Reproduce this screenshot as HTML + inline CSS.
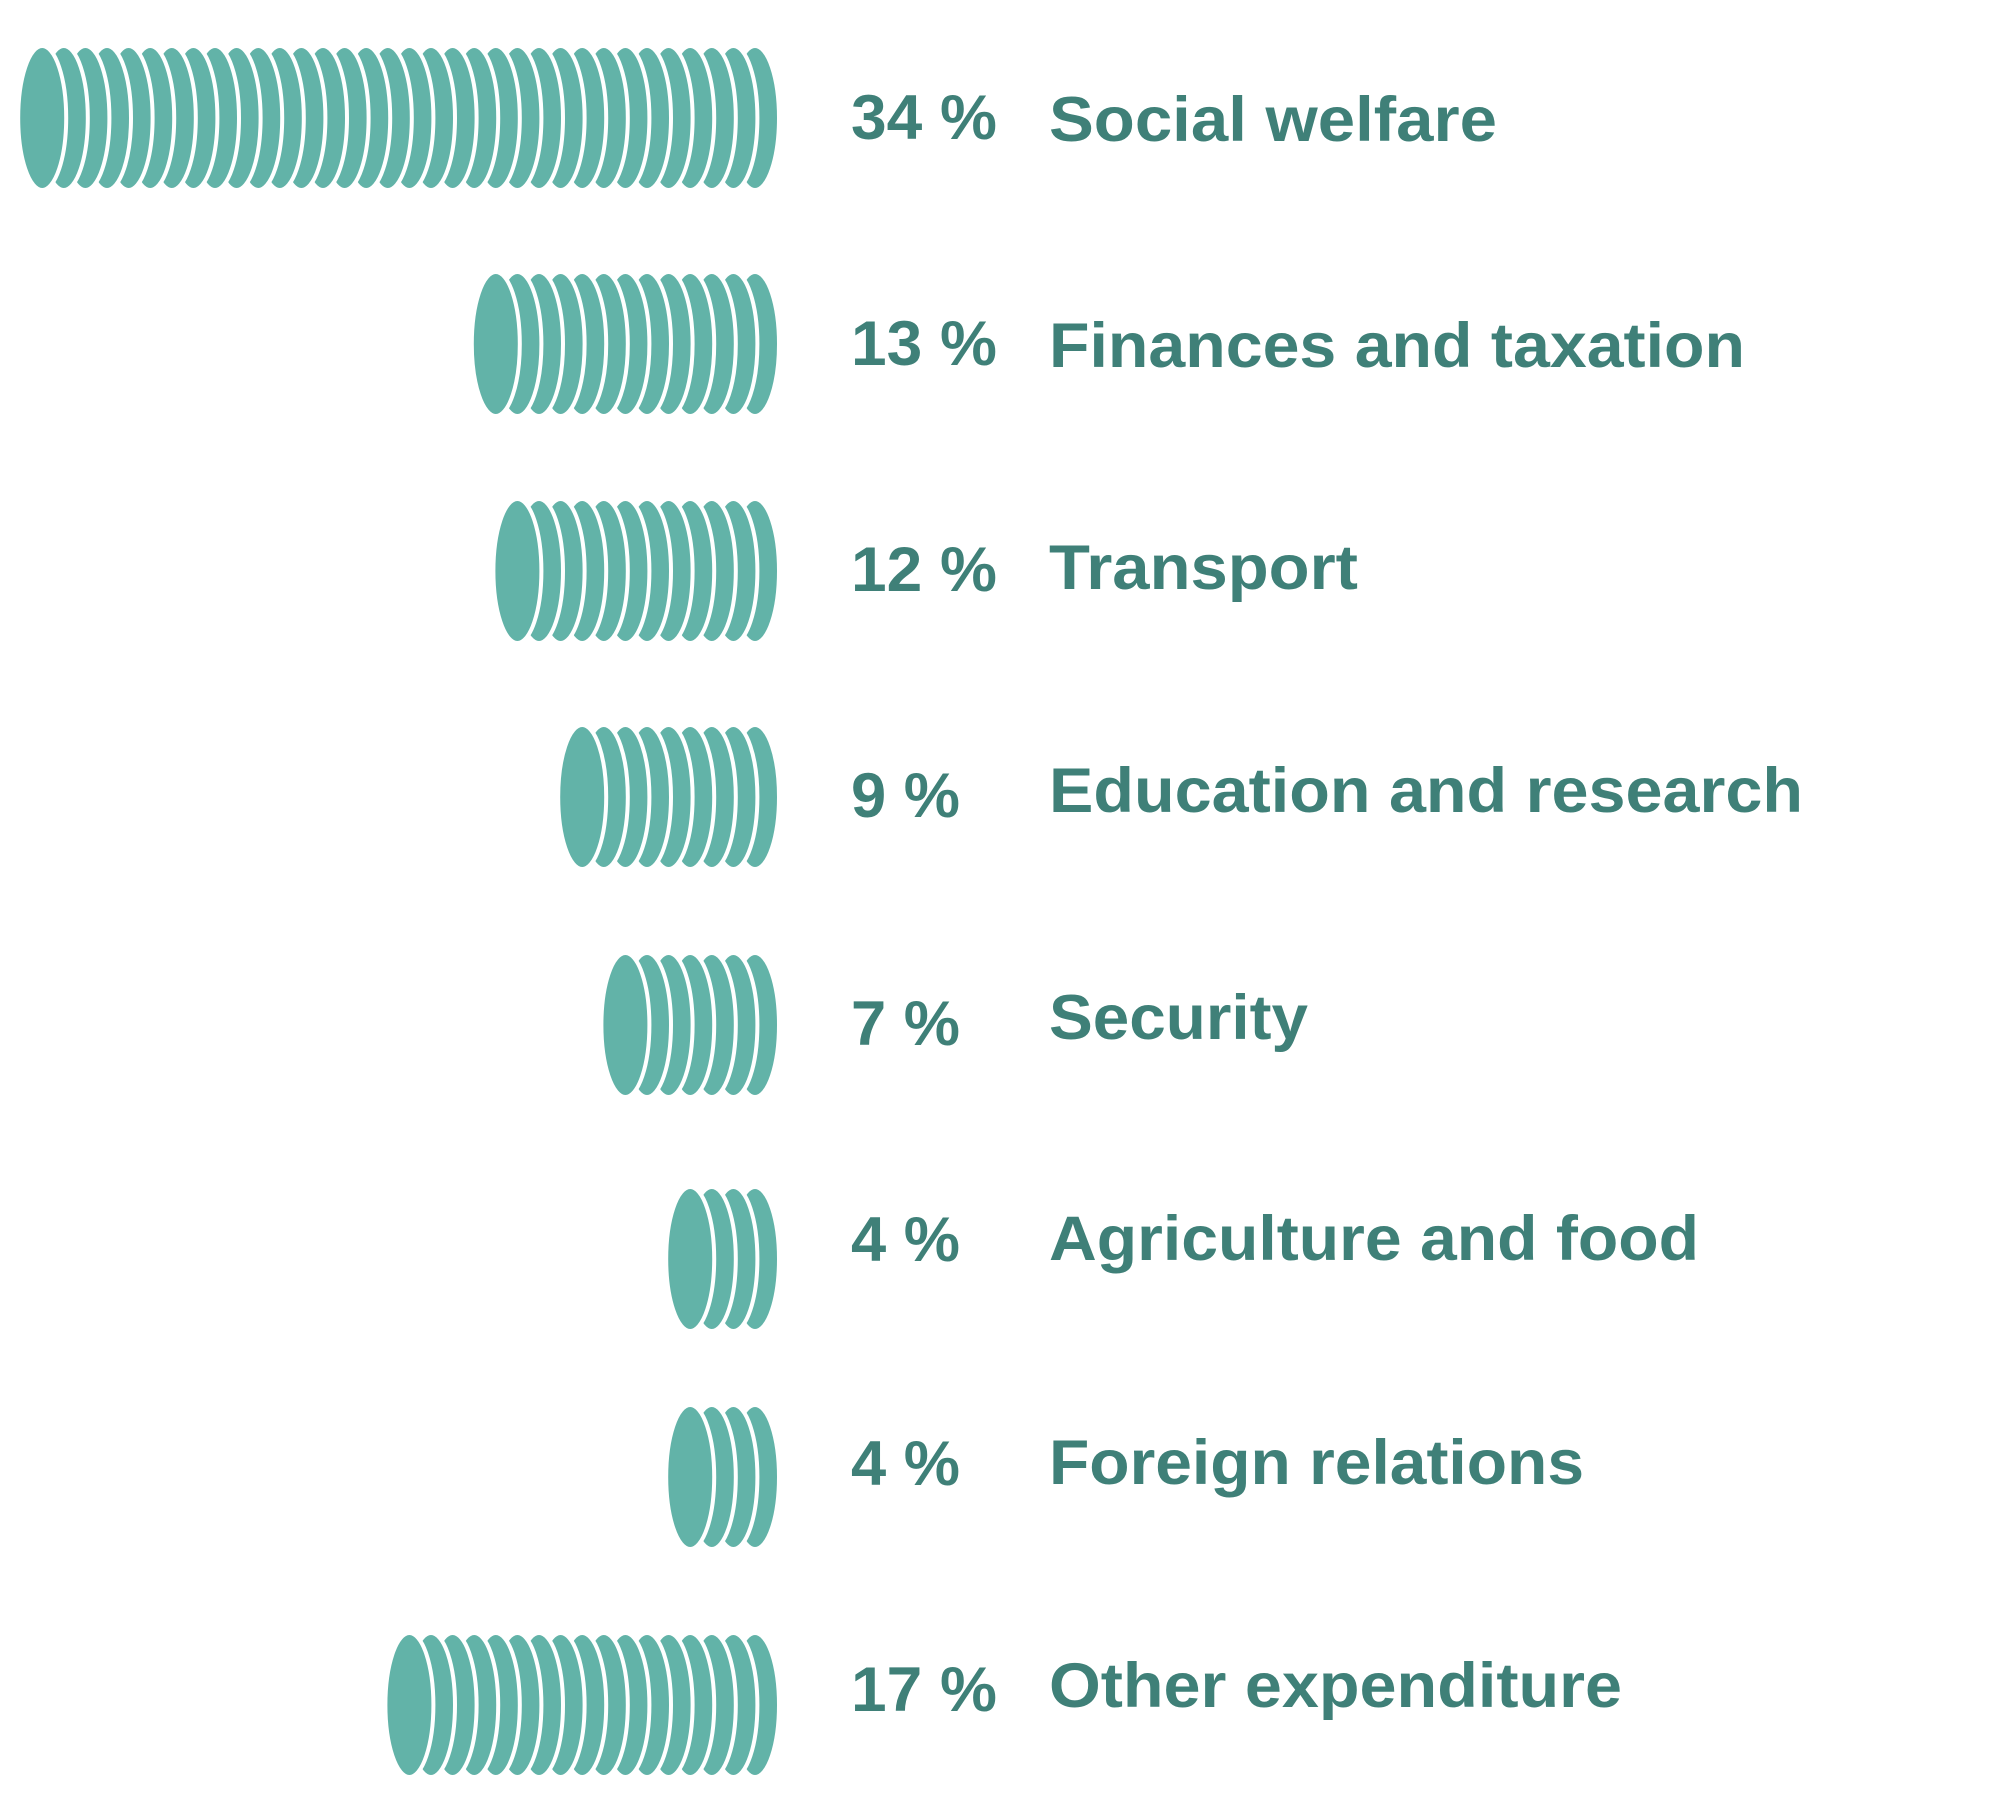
<!DOCTYPE html>
<html><head><meta charset="utf-8"><style>
html,body{margin:0;padding:0;background:#fff;}
svg{display:block}
text{font-family:"Liberation Sans",Arial,sans-serif;font-weight:bold;fill:#3f8078;font-size:63px;}
</style></head><body>
<svg id="s" width="2004" height="1815" viewBox="0 0 2004 1815" xmlns="http://www.w3.org/2000/svg">
<g id="coins"></g>
<text x="851" y="139" textLength="146" lengthAdjust="spacingAndGlyphs">34 %</text>
<text x="1049" y="141" textLength="448" lengthAdjust="spacingAndGlyphs">Social welfare</text>
<text x="851" y="365" textLength="146" lengthAdjust="spacingAndGlyphs">13 %</text>
<text x="1049" y="367" textLength="696" lengthAdjust="spacingAndGlyphs">Finances and taxation</text>
<text x="851" y="591" textLength="146" lengthAdjust="spacingAndGlyphs">12 %</text>
<text x="1049" y="589" textLength="309" lengthAdjust="spacingAndGlyphs">Transport</text>
<text x="851" y="817" textLength="109" lengthAdjust="spacingAndGlyphs">9 %</text>
<text x="1049" y="812" textLength="754" lengthAdjust="spacingAndGlyphs">Education and research</text>
<text x="851" y="1045" textLength="109" lengthAdjust="spacingAndGlyphs">7 %</text>
<text x="1049" y="1039" textLength="259" lengthAdjust="spacingAndGlyphs">Security</text>
<text x="851" y="1261" textLength="109" lengthAdjust="spacingAndGlyphs">4 %</text>
<text x="1049" y="1260" textLength="650" lengthAdjust="spacingAndGlyphs">Agriculture and food</text>
<text x="851" y="1485" textLength="109" lengthAdjust="spacingAndGlyphs">4 %</text>
<text x="1049" y="1484" textLength="535" lengthAdjust="spacingAndGlyphs">Foreign relations</text>
<text x="851" y="1711" textLength="146" lengthAdjust="spacingAndGlyphs">17 %</text>
<text x="1049" y="1707" textLength="573" lengthAdjust="spacingAndGlyphs">Other expenditure</text>
</svg>
<script>
var rows=[[34,118],[13,344],[12,571],[9,797],[7,1025],[4,1259],[4,1477],[17,1705]];
var g=document.getElementById('coins'),h='';
rows.forEach(function(r){var n=r[0],cy=r[1],w=48,rx=w/2,ry=72,step=21.6;
 var left=779-w-(n-1)*step;
 for(var i=n-1;i>=0;i--){var cx=left+i*step+rx;
  h+='<ellipse cx="'+cx.toFixed(1)+'" cy="'+cy+'" rx="'+rx+'" ry="'+ry+'" fill="#62b3a8" stroke="#fff" stroke-width="4"/>';}
});
g.innerHTML=h;
</script>
</body></html>
